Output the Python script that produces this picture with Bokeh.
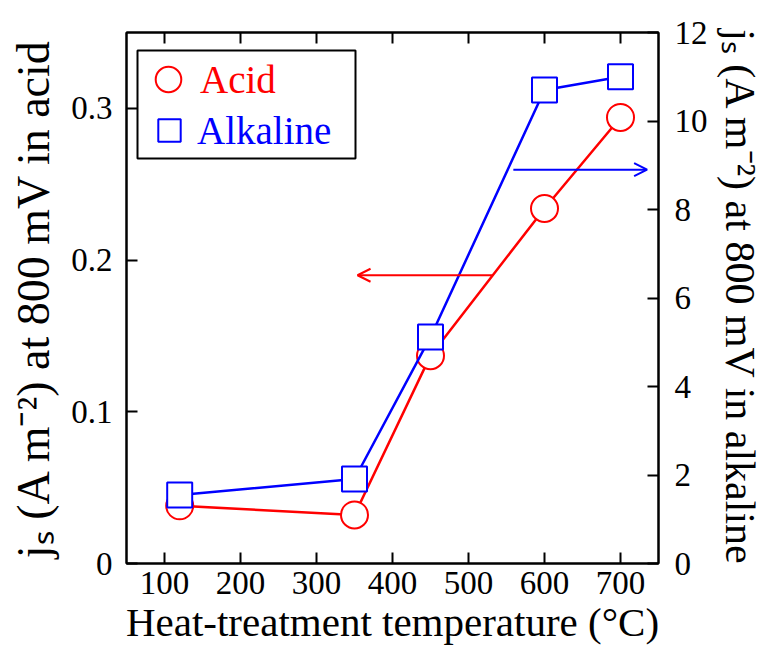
from bokeh.plotting import figure
from bokeh.models import (Range1d, LinearAxis, FixedTicker, Legend, LegendItem,
                          BoxAnnotation, Arrow, OpenHead, ColumnDataSource)
from bokeh.embed import file_html
from bokeh.resources import INLINE

# ---- data -------------------------------------------------------------
temperature = [120, 350, 450, 600, 700]              # heat-treatment temperature, degC
js_acid = [0.038, 0.032, 0.137, 0.234, 0.294]        # A m^-2 at 800 mV, acid (left axis)
js_alkaline = [1.55, 1.91, 5.12, 10.70, 11.00]       # A m^-2 at 800 mV, alkaline (right axis)

x_ticks = [100, 200, 300, 400, 500, 600, 700]
acid_ticks = [0, 0.1, 0.2, 0.3]
alkaline_ticks = [0, 2, 4, 6, 8, 10, 12]

x_title = "Heat-treatment temperature (\u00b0C)"
acid_title = "j\u209b (A m\u207b\u00b2) at 800 mV in acid"
alkaline_title = "j\u209b (A m\u207b\u00b2) at 800 mV in alkaline"

# ---- style / page geometry (canvas pixels) ------------------------------
RED = "#ff0000"
BLUE = "#0000ff"
SERIF = "Liberation Serif"
W, H = 765, 658
FL, FR, FT, FB = 126, 658, 32, 563   # plot frame edges on the page

src = ColumnDataSource(dict(t=temperature, acid=js_acid, alk=js_alkaline))

p = figure(width=W, height=H, x_range=Range1d(50, 750), y_range=Range1d(0, 0.35),
           output_backend="svg", toolbar_location=None,
           x_axis_type=None, y_axis_type=None,
           min_border_left=FL, min_border_right=W - FR,
           min_border_top=FT, min_border_bottom=H - FB)
p.extra_y_ranges = {"alk": Range1d(0, 12)}
p.outline_line_color = "black"
p.outline_line_width = 2
p.background_fill_color = "white"
p.border_fill_color = "white"


def style_axis(ax, standoff):
    ax.axis_line_color = "black"
    ax.axis_line_width = 2
    ax.major_tick_in = 11
    ax.major_tick_out = 0
    ax.major_tick_line_width = 2
    ax.major_tick_line_color = "black"
    ax.minor_tick_line_color = None
    ax.major_label_text_font = SERIF
    ax.major_label_text_font_size = "33px"
    ax.major_label_text_color = "black"
    ax.major_label_standoff = standoff


def style_title(ax, size, standoff):
    ax.axis_label_text_font = SERIF
    ax.axis_label_text_font_size = size
    ax.axis_label_text_font_style = "normal"
    ax.axis_label_text_color = "black"
    ax.axis_label_standoff = standoff


bottom = LinearAxis(ticker=FixedTicker(ticks=x_ticks), axis_label=x_title)
style_axis(bottom, 8)
style_title(bottom, "41px", 2)
p.add_layout(bottom, "below")

top = LinearAxis(ticker=FixedTicker(ticks=x_ticks))
style_axis(top, 0)
top.major_label_text_color = None
top.major_label_text_font_size = "0px"
p.add_layout(top, "above")

left = LinearAxis(ticker=FixedTicker(ticks=acid_ticks), major_label_overrides={0: "0"},
                  axis_label=acid_title)
style_axis(left, 14)
style_title(left, "46px", 9)
p.add_layout(left, "left")

right = LinearAxis(y_range_name="alk", ticker=FixedTicker(ticks=alkaline_ticks),
                   axis_label=alkaline_title)
style_axis(right, 16)
style_title(right, "42px", 6)
p.add_layout(right, "right")

# ---- series -----------------------------------------------------------
p.line("t", "acid", source=src, line_color=RED, line_width=2.5)
acid_pts = p.scatter("t", "acid", source=src, marker="circle", size=27,
                     line_color=RED, line_width=2, fill_color="white")
p.line("t", "alk", source=src, y_range_name="alk", line_color=BLUE, line_width=2.5)
alk_pts = p.scatter("t", "alk", source=src, y_range_name="alk", marker="square", size=25,
                    line_color=BLUE, line_width=2, fill_color="white")

# arrows pointing each curve to its axis
p.add_layout(Arrow(end=OpenHead(size=13, line_color=RED, line_width=2),
                   x_start=532, y_start=0.19, x_end=354, y_end=0.19,
                   line_color=RED, line_width=2))
p.add_layout(Arrow(end=OpenHead(size=13, line_color=BLUE, line_width=2),
                   x_start=559, y_start=8.9, x_end=735, y_end=8.9,
                   line_color=BLUE, line_width=2, y_range_name="alk"))

# ---- legend: one framed box, two single-item legends with their own colours
p.add_layout(BoxAnnotation(left=137 - FL, right=355 - FL, top=FB - 50, bottom=FB - 158,
                           left_units="screen", right_units="screen",
                           top_units="screen", bottom_units="screen",
                           fill_color="white", fill_alpha=1.0,
                           line_color="black", line_width=2, line_alpha=1.0))


def single_legend(label, rend, color, glyph, cx, cy):
    lg = Legend(items=[LegendItem(label=label, renderers=[rend])],
                location=(cx - glyph / 2 - FL, FB - (cy + glyph / 2)),
                glyph_width=glyph, glyph_height=glyph, label_standoff=0,
                padding=0, margin=0, spacing=0,
                label_text_font=SERIF, label_text_font_size="39px",
                label_text_color=color,
                background_fill_alpha=0, border_line_color=None)
    p.add_layout(lg)


single_legend("Acid", acid_pts, RED, 64, 168, 79)
single_legend("Alkaline", alk_pts, BLUE, 56, 169, 130)

open("out.html", "w").write(file_html(p, INLINE))
